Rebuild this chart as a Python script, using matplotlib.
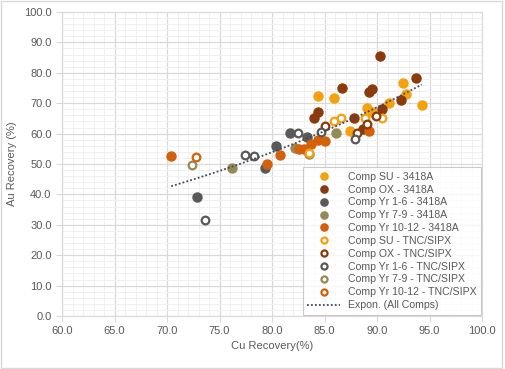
import numpy as np
import matplotlib
matplotlib.use("Agg")
import matplotlib.pyplot as plt
from matplotlib.ticker import MultipleLocator, FormatStrFormatter
from matplotlib.patches import Rectangle

# ---- data ----
su_3418_x = [84.4, 85.9, 89.0, 89.5, 92.45, 92.8, 94.26, 91.1, 87.4]
su_3418_y = [72.5, 71.6, 68.3, 67.0, 76.5, 72.9, 69.4, 70.2, 61.0]

ox_3418_x = [90.3, 93.7, 89.2, 89.5, 86.7, 84.4, 84.0, 87.8, 90.5, 92.3, 88.7]
ox_3418_y = [85.4, 78.4, 73.6, 74.6, 75.1, 67.2, 65.0, 65.0, 68.1, 71.2, 61.4]

y16_3418_x = [72.9, 79.3, 80.4, 81.7, 83.3]
y16_3418_y = [39.3, 48.6, 56.0, 60.1, 58.8]

y79_3418_x = [76.2, 82.2, 83.5, 86.1]
y79_3418_y = [48.6, 55.2, 53.3, 60.1]

y1012_3418_x = [70.4, 79.55, 80.8, 82.6, 83.0, 83.7, 84.35, 85.0, 89.2]
y1012_3418_y = [52.7, 49.9, 53.0, 54.9, 54.9, 56.6, 57.9, 57.7, 61.0]

su_tnc_x = [85.9, 86.6, 88.9, 90.5, 83.5]
su_tnc_y = [64.1, 65.1, 65.0, 65.0, 53.7]

ox_tnc_x = [85.05, 89.9, 89.05, 88.1]
ox_tnc_y = [62.6, 65.7, 63.3, 60.3]

y16_tnc_x = [73.6, 77.4, 78.25, 82.5, 84.7, 87.9]
y16_tnc_y = [31.6, 53.0, 52.6, 60.3, 60.6, 58.3]

y79_tnc_x = [72.4]
y79_tnc_y = [49.7]

y1012_tnc_x = [72.8]
y1012_tnc_y = [52.2]

labels = ["Comp SU - 3418A", "Comp OX - 3418A", "Comp Yr 1-6 - 3418A",
          "Comp Yr 7-9 - 3418A", "Comp Yr 10-12 - 3418A",
          "Comp SU - TNC/SIPX", "Comp OX - TNC/SIPX", "Comp Yr 1-6 - TNC/SIPX",
          "Comp Yr 7-9 - TNC/SIPX", "Comp Yr 10-12 - TNC/SIPX"]
trend_label = "Expon. (All Comps)"
x_label = "Cu Recovery(%)"
y_label = "Au Recovery (%)"

colors = ["#F5A10E", "#8B3A0E", "#595959", "#948A54", "#D4600A"]

filled = [(su_3418_x, su_3418_y), (ox_3418_x, ox_3418_y), (y16_3418_x, y16_3418_y),
          (y79_3418_x, y79_3418_y), (y1012_3418_x, y1012_3418_y)]
hollow = [(su_tnc_x, su_tnc_y), (ox_tnc_x, ox_tnc_y), (y16_tnc_x, y16_tnc_y),
          (y79_tnc_x, y79_tnc_y), (y1012_tnc_x, y1012_tnc_y)]

plt.rcParams['font.family'] = ['Liberation Sans', 'DejaVu Sans']

fig = plt.figure(figsize=(5.06, 3.69), dpi=100)
ax = fig.add_axes([62/506, 1-316/369, 420/506, 304/369])

handles = []
for (xs, ys), c, lab in zip(filled, colors, labels[:5]):
    h, = ax.plot(xs, ys, linestyle='none', marker='o', markersize=6.5,
                 markerfacecolor=c, markeredgecolor=c, label=lab, zorder=3)
    handles.append(h)
for (xs, ys), c, lab in zip(hollow, colors, labels[5:]):
    h, = ax.plot(xs, ys, linestyle='none', marker='o', markersize=5.5,
                 markerfacecolor='white', markeredgecolor=c, markeredgewidth=1.6,
                 label=lab, zorder=3)
    handles.append(h)

# exponential trendline fitted on all points
allx = np.concatenate([np.array(a[0], float) for a in filled + hollow])
ally = np.concatenate([np.array(a[1], float) for a in filled + hollow])
b, lna = np.polyfit(allx, np.log(ally), 1)
tx = np.linspace(allx.min(), allx.max(), 100)
h, = ax.plot(tx, np.exp(lna) * np.exp(b * tx), linestyle=(0, (1, 1.2)),
             color='#3F4A5A', linewidth=1.3, label=trend_label, zorder=4)
handles.append(h)

ax.set_xlim(60, 100)
ax.set_ylim(0, 100)
ax.xaxis.set_major_locator(MultipleLocator(5))
ax.xaxis.set_minor_locator(MultipleLocator(1))
ax.yaxis.set_major_locator(MultipleLocator(10))
ax.yaxis.set_minor_locator(MultipleLocator(2))
ax.xaxis.set_major_formatter(FormatStrFormatter('%.1f'))
ax.yaxis.set_major_formatter(FormatStrFormatter('%.1f'))
ax.grid(which='major', color='#D9D9D9', linewidth=0.9, zorder=0)
ax.grid(which='minor', color='#F0F0F0', linewidth=0.7, zorder=0)
ax.set_axisbelow(True)
for s in ax.spines.values():
    s.set_color('#D9D9D9')
ax.tick_params(which='major', colors='#D9D9D9', labelcolor='#595959',
               labelsize=8, length=4)
ax.tick_params(which='minor', length=0)

ax.set_xlabel(x_label, fontsize=8, color='#595959', labelpad=3)
ax.set_ylabel(y_label, fontsize=8, color='#595959', labelpad=5)

leg = ax.legend(handles=handles, loc='lower right', fontsize=7.6,
                frameon=True, fancybox=False, borderaxespad=0.1,
                labelspacing=0.27, handlelength=3.1, handletextpad=0.7,
                borderpad=0.45, markerscale=0.8)
leg.get_frame().set_edgecolor('#BFBFBF')
leg.get_frame().set_linewidth(0.8)
for t in leg.get_texts():
    t.set_color('#595959')

fig.patches.append(Rectangle((0.002, 0.003), 0.99, 0.994, transform=fig.transFigure,
                             fill=False, edgecolor='#D9D9D9', linewidth=1))

fig.savefig("out.png", dpi=100)
